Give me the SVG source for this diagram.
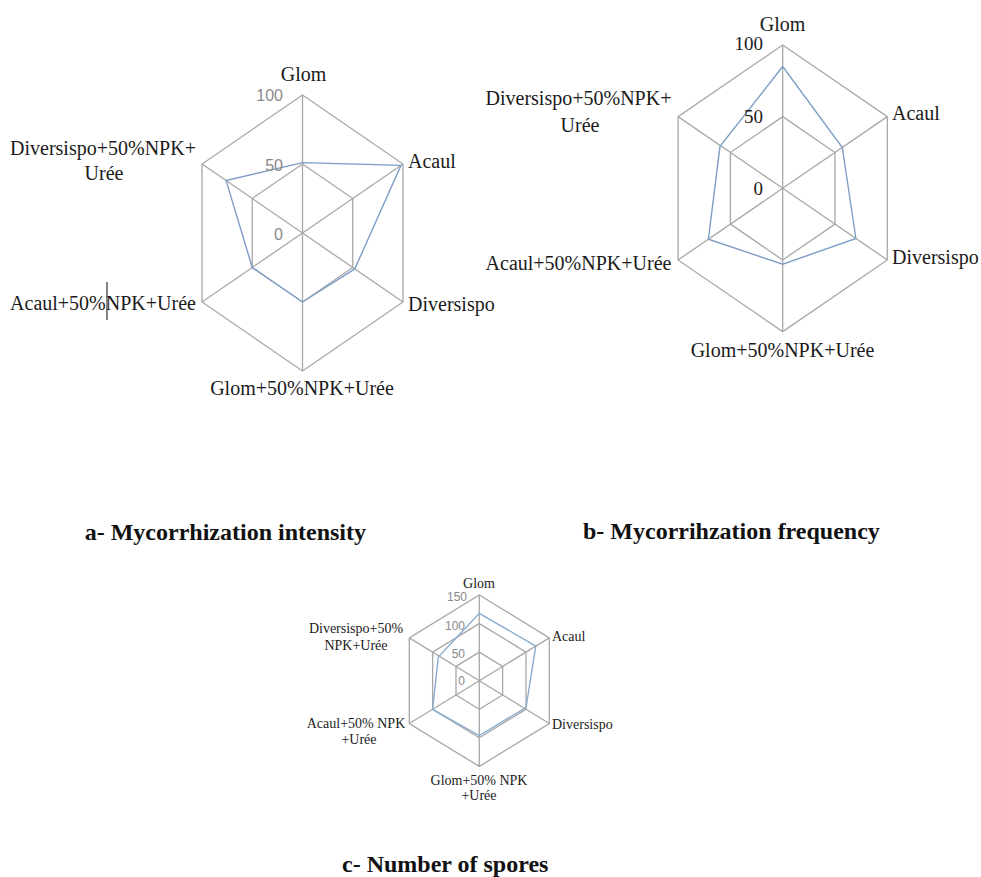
<svg xmlns="http://www.w3.org/2000/svg" width="981" height="877" viewBox="0 0 981 877">
<style>
.grid{fill:none;stroke:#a8a8a8;stroke-width:1.3}
.data{fill:none;stroke:#7f9ec6;stroke-width:1.4}
.lbl{font-family:"Liberation Serif","Times New Roman",serif;font-size:20px;fill:#1a1a1a}
.lblc{font-family:"Liberation Serif","Times New Roman",serif;font-size:14px;fill:#222}
.ax{font-family:"Liberation Sans",Arial,sans-serif;font-size:16px;fill:#8a8a8a;text-anchor:end}
.axb{font-family:"Liberation Serif","Times New Roman",serif;font-size:19px;fill:#1a1a1a;text-anchor:end}
.axc{font-family:"Liberation Sans",Arial,sans-serif;font-size:12px;fill:#8a8a8a;text-anchor:end}
.title{font-family:"Liberation Serif","Times New Roman",serif;font-size:24px;font-weight:bold;fill:#111}
.mid{text-anchor:middle}
</style>
<rect width="981" height="877" fill="#ffffff"/>

<g id="chart-a">
  <g id="a-grid">
    <polygon class="grid" points="302.5,95 403,164 403,302 302.5,371 202,302 202,164"/>
    <polygon class="grid" points="302.5,164 352.75,198.5 352.75,267.5 302.5,302 252.25,267.5 252.25,198.5"/>
    <line class="grid" x1="302.5" y1="233" x2="302.5" y2="95"/>
    <line class="grid" x1="302.5" y1="233" x2="403" y2="164"/>
    <line class="grid" x1="302.5" y1="233" x2="403" y2="302"/>
    <line class="grid" x1="302.5" y1="233" x2="302.5" y2="371"/>
    <line class="grid" x1="302.5" y1="233" x2="202" y2="302"/>
    <line class="grid" x1="302.5" y1="233" x2="202" y2="164"/>
  </g>
  <polygon id="a-series" class="data" points="302.5,162.6 401,165.4 354.8,268.9 302.5,302 252.25,267.5 226.1,180.6"/>
  <text class="ax" x="283" y="101">100</text>
  <text class="ax" x="283" y="171">50</text>
  <text class="ax" x="283" y="240">0</text>
  <text class="lbl mid" x="303.5" y="81">Glom</text>
  <text class="lbl" x="408" y="168">Acaul</text>
  <text class="lbl" x="408" y="311">Diversispo</text>
  <text class="lbl mid" x="302" y="395">Glom+50%NPK+Urée</text>
  <text class="lbl mid" x="103" y="310">Acaul+50%NPK+Urée</text>
  <text class="lbl mid" x="103" y="155">Diversispo+50%NPK+</text>
  <text class="lbl mid" x="104" y="180">Urée</text>
  <line x1="107" y1="282" x2="107" y2="320" stroke="#333" stroke-width="1.2"/>
</g>

<g id="chart-b">
  <g id="b-grid">
    <polygon class="grid" points="782.7,45 887.3,116.65 887.3,259.95 782.7,331.6 678.1,259.95 678.1,116.65"/>
    <polygon class="grid" points="782.7,116.65 835,152.5 835,224.1 782.7,259.95 730.4,224.1 730.4,152.5"/>
    <line class="grid" x1="782.7" y1="188.3" x2="782.7" y2="45"/>
    <line class="grid" x1="782.7" y1="188.3" x2="887.3" y2="116.65"/>
    <line class="grid" x1="782.7" y1="188.3" x2="887.3" y2="259.95"/>
    <line class="grid" x1="782.7" y1="188.3" x2="782.7" y2="331.6"/>
    <line class="grid" x1="782.7" y1="188.3" x2="678.1" y2="259.95"/>
    <line class="grid" x1="782.7" y1="188.3" x2="678.1" y2="116.65"/>
  </g>
  <polygon id="b-series" class="data" points="782.7,66.5 842.3,147.5 855.9,238.5 782.7,264.2 708.4,239.2 720,146.3"/>
  <text class="axb" x="763" y="50">100</text>
  <text class="axb" x="763" y="123">50</text>
  <text class="axb" x="763" y="195">0</text>
  <text class="lbl mid" x="782.5" y="31">Glom</text>
  <text class="lbl" x="892" y="120">Acaul</text>
  <text class="lbl" x="892" y="264">Diversispo</text>
  <text class="lbl mid" x="782.5" y="357">Glom+50%NPK+Urée</text>
  <text class="lbl mid" x="578.5" y="270">Acaul+50%NPK+Urée</text>
  <text class="lbl mid" x="578.5" y="105">Diversispo+50%NPK+</text>
  <text class="lbl mid" x="580" y="132">Urée</text>
</g>

<g id="chart-c">
  <g id="c-grid">
    <polygon class="grid" points="479.3,595 549.3,637.85 549.3,723.55 479.3,766.4 409.3,723.55 409.3,637.85"/>
    <polygon class="grid" points="479.3,623.6 526,652.1 526,709.3 479.3,737.8 432.6,709.3 432.6,652.1"/>
    <polygon class="grid" points="479.3,652.1 502.6,666.4 502.6,695 479.3,709.3 456,695 456,666.4"/>
    <line class="grid" x1="479.3" y1="680.7" x2="479.3" y2="595"/>
    <line class="grid" x1="479.3" y1="680.7" x2="549.3" y2="637.85"/>
    <line class="grid" x1="479.3" y1="680.7" x2="549.3" y2="723.55"/>
    <line class="grid" x1="479.3" y1="680.7" x2="479.3" y2="766.4"/>
    <line class="grid" x1="479.3" y1="680.7" x2="409.3" y2="723.55"/>
    <line class="grid" x1="479.3" y1="680.7" x2="409.3" y2="637.85"/>
  </g>
  <polygon id="c-series" class="data" points="479.3,613.3 535.8,646.1 526,707.5 479.3,735.5 432.6,709.3 438.3,657" style="stroke:#8aabd0"/>
  <text class="axc" x="467" y="601">150</text>
  <text class="axc" x="465" y="630">100</text>
  <text class="axc" x="465" y="658">50</text>
  <text class="axc" x="465" y="685">0</text>
  <text class="lblc mid" x="479" y="588">Glom</text>
  <text class="lblc" x="552" y="641">Acaul</text>
  <text class="lblc" x="552" y="729">Diversispo</text>
  <text class="lblc mid" x="356" y="633">Diversispo+50%</text>
  <text class="lblc mid" x="356" y="650">NPK+Urée</text>
  <text class="lblc mid" x="356" y="728">Acaul+50% NPK</text>
  <text class="lblc mid" x="359" y="744">+Urée</text>
  <text class="lblc mid" x="479" y="785">Glom+50% NPK</text>
  <text class="lblc mid" x="479" y="800">+Urée</text>
</g>

<g id="titles">
  <text class="title" x="366" y="540" text-anchor="end">a- Mycorrhization intensity</text>
  <text class="title" x="583" y="539">b- Mycorrihzation frequency</text>
  <text class="title" x="342" y="872">c- Number of spores</text>
</g>
</svg>
